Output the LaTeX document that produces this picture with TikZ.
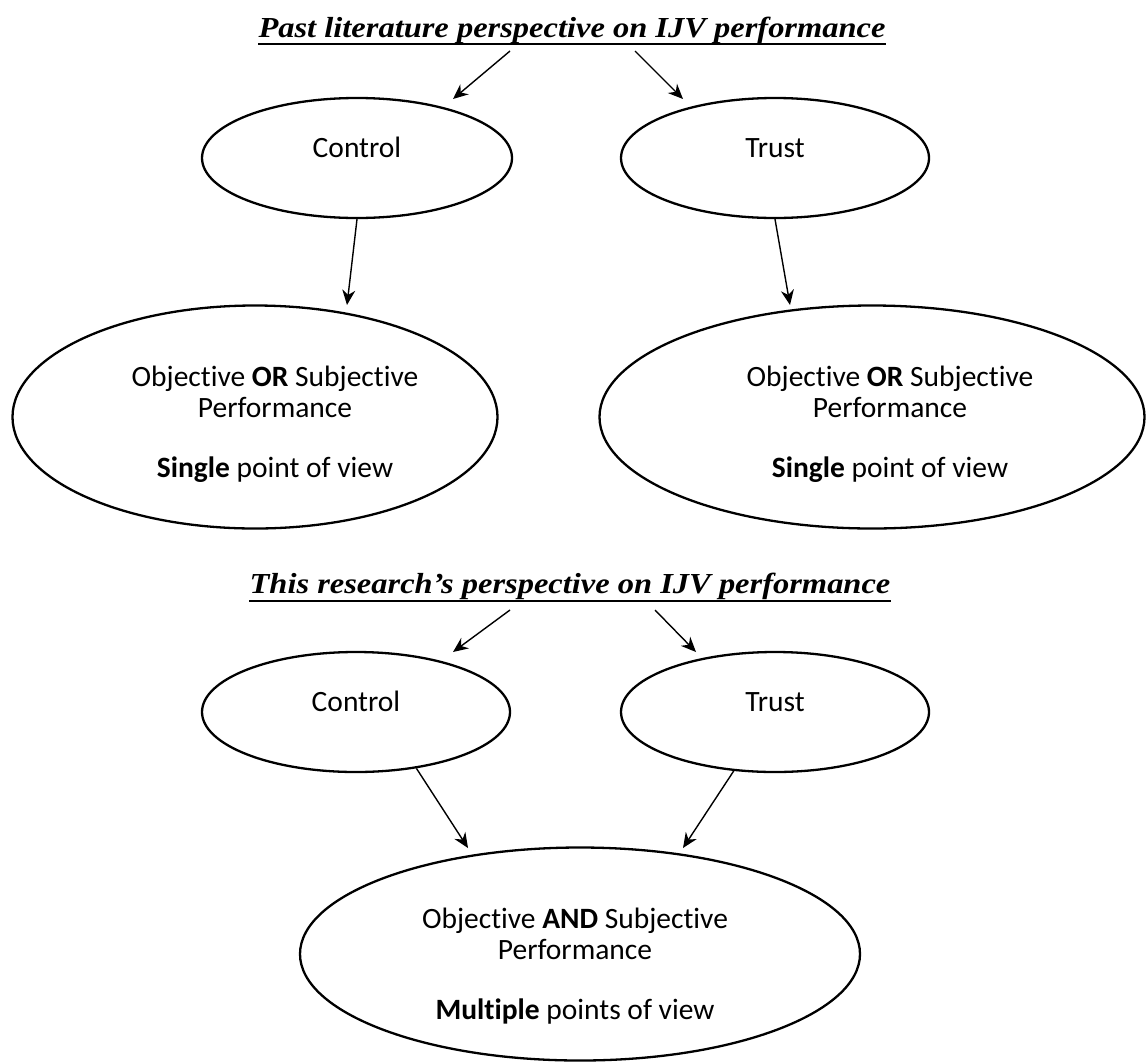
\documentclass[tikz,border=0pt]{standalone}
\usepackage{fontspec}
\usepackage{graphicx}
\setmainfont{Carlito}[Ligatures=NoCommon]
\newfontfamily\titlefont{Liberation Serif}
\usetikzlibrary{shapes.geometric,arrows.meta}
\begin{document}
\begin{tikzpicture}[x=1pt,y=-1pt,
  oval/.style={draw,ellipse,line width=2.3pt,inner sep=0pt},
  body/.style={font=\fontsize{29.5}{31}\selectfont,inner sep=0pt,anchor=base},
  ttl/.style={font=\titlefont\bfseries\itshape\fontsize{29}{34}\selectfont,inner sep=0pt,anchor=base},
  uline/.style={line width=2.8pt},
  arr/.style={line width=1.4pt,-{Stealth[length=15pt,width=13pt]}}]
\useasboundingbox (0,0) rectangle (1147,1063);

% ---- upper part ----
\node[ttl] (t1) at (572,37) {\scalebox{1.12}[1]{Past literature perspective on IJV performance}};
\draw[uline] ([yshift=-7pt]t1.base west) -- ([yshift=-7pt]t1.base east);
\coordinate (t1l) at (510,51);
\coordinate (t1r) at (635,51);

\node[oval,minimum width=310pt,minimum height=120pt] (ctl1) at (357,158) {};
\node[body] (ctl1t) at (357,157) {Control};
\node[oval,minimum width=308pt,minimum height=120pt] (tru1) at (775,158) {};
\node[body] (tru1t) at (775,157) {Trust};

\node[oval,minimum width=485pt,minimum height=223pt] (big1) at (255,417) {};
\node[body] (big1a) at (275,386) {Objective \textbf{OR} Subjective};
\node[body] (big1b) at (275,417) {Performance};
\node[body] (big1c) at (275,477) {\textbf{Single} point of view};
\node[oval,minimum width=545pt,minimum height=223pt] (big2) at (872,417) {};
\node[body] (big2a) at (890,386) {Objective \textbf{OR} Subjective};
\node[body] (big2b) at (890,417) {Performance};
\node[body] (big2c) at (890,477) {\textbf{Single} point of view};

\coordinate (a1) at (453,99);
\coordinate (a2) at (683,99);
\coordinate (a3) at (347,305);
\coordinate (a4) at (790,305);
\draw[arr] (t1l) -- (a1);
\draw[arr] (t1r) -- (a2);
\draw[arr] (ctl1.south) -- (a3);
\draw[arr] (tru1.south) -- (a4);

% ---- lower part ----
\node[ttl] (t2) at (570,593) {\scalebox{1.12}[1]{This research’s perspective on IJV performance}};
\draw[uline] ([yshift=-8pt]t2.base west) -- ([yshift=-8pt]t2.base east);
\coordinate (t2l) at (510,610);
\coordinate (t2r) at (655,610);

\node[oval,minimum width=308pt,minimum height=120pt] (ctl2) at (356,712) {};
\node[body] (ctl2t) at (356,711) {Control};
\node[oval,minimum width=308pt,minimum height=120pt] (tru2) at (775,712) {};
\node[body] (tru2t) at (775,711) {Trust};

\node[oval,minimum width=560pt,minimum height=213pt] (bot) at (580,954) {};
\node[body] (bota) at (575,928) {Objective \textbf{AND} Subjective};
\node[body] (botb) at (575,959) {Performance};
\node[body] (botc) at (575,1019) {\textbf{Multiple} points of view};

\coordinate (b1) at (453,652);
\coordinate (b2) at (696,652);
\coordinate (b3) at (468,848);
\coordinate (b4) at (683,848);
\draw[arr] (t2l) -- (b1);
\draw[arr] (t2r) -- (b2);
\draw[arr] (ctl2.-43) -- (b3);
\draw[arr] (tru2.-125) -- (b4);
\end{tikzpicture}
\end{document}
